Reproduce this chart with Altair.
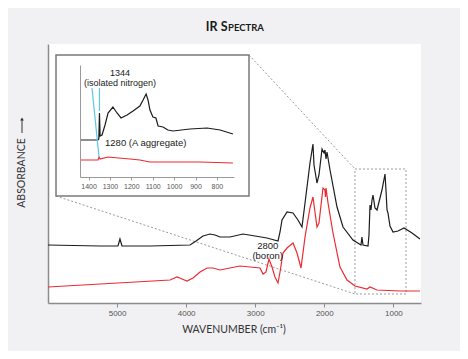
import altair as alt
import pandas as pd

# ---------------- data (wavenumber cm-1, absorbance arb. units) ----------------
black_wn = [6000, 5247, 4987, 4958, 4929, 4523, 3944, 3857, 3756, 3655, 3582, 3510, 3365, 3177,
            3003, 2830, 2670, 2641, 2612, 2540, 2453, 2381, 2323, 2279, 2207, 2164, 2149, 2106,
            2077, 2033, 2004, 1990, 1975, 1961, 1917, 1816, 1729, 1585, 1469, 1455, 1440, 1367,
            1353, 1338, 1324, 1309, 1295, 1266, 1237, 1165, 1121, 1107, 1092, 1078, 1049, 1005,
            933, 846, 730, 615]
black_abs = [0.58, 0.57, 0.57, 0.64, 0.57, 0.57, 0.58, 0.62, 0.67, 0.69, 0.68, 0.66, 0.66, 0.69,
             0.67, 0.65, 0.62, 0.71, 0.83, 0.91, 0.90, 0.83, 0.76, 1.00, 1.40, 1.59, 1.38, 1.20,
             1.28, 1.54, 1.50, 1.53, 1.44, 1.51, 1.33, 0.96, 0.76, 0.63, 0.58, 0.66, 0.58, 0.57,
             0.68, 0.98, 0.93, 1.03, 1.08, 0.95, 0.93, 1.13, 1.29, 1.13, 0.93, 0.90, 0.77, 0.71,
             0.72, 0.75, 0.70, 0.64]

red_wn = [6000, 4234, 4132, 4060, 3988, 3901, 3799, 3698, 3611, 3510, 3365, 3220, 3076, 2931,
          2887, 2844, 2801, 2757, 2714, 2670, 2641, 2598, 2540, 2453, 2395, 2337, 2279, 2207,
          2164, 2106, 2077, 2019, 1990, 1983, 1975, 1946, 1874, 1773, 1671, 1556, 1382, 1338,
          1237, 904, 615]
red_abs = [0.16, 0.23, 0.26, 0.24, 0.22, 0.25, 0.31, 0.35, 0.35, 0.33, 0.35, 0.37, 0.36, 0.35,
           0.29, 0.31, 0.44, 0.36, 0.26, 0.20, 0.31, 0.50, 0.55, 0.60, 0.50, 0.35, 0.66, 0.95,
           1.06, 0.76, 0.80, 1.15, 1.13, 1.06, 1.15, 1.00, 0.70, 0.36, 0.23, 0.17, 0.14, 0.16,
           0.13, 0.12, 0.12]

inset_black_wn = [1440, 1356, 1352, 1349, 1346, 1337, 1323, 1309, 1286, 1267, 1248, 1220, 1192,
                  1160, 1145, 1131, 1122, 1113, 1099, 1085, 1075, 1052, 1029, 1005, 926, 846,
                  785, 725]
inset_black_abs = [0.37, 0.37, 0.38, 0.64, 0.41, 0.42, 0.52, 0.64, 0.70, 0.64, 0.59, 0.62, 0.66,
                   0.71, 0.77, 0.83, 0.77, 0.67, 0.60, 0.59, 0.51, 0.50, 0.47, 0.46, 0.48, 0.49,
                   0.47, 0.43]

inset_red_wn = [1440, 1356, 1351, 1346, 1309, 1260, 1206, 1160, 1113, 1019, 879, 725]
inset_red_abs = [0.17, 0.17, 0.20, 0.18, 0.20, 0.19, 0.18, 0.17, 0.15, 0.15, 0.15, 0.14]

main_ticks = [5000, 4000, 3000, 2000, 1000]
inset_ticks = [1400, 1300, 1200, 1100, 1000, 900, 800]

# zoom window drawn on the main spectrum
zoom_box = {"x1": [1556], "x2": [817], "y1": [1.34], "y2": [0.09]}

# annotations
main_notes = {"wn": [2819, 2819], "a": [0.575, 0.47], "label": ["2800", "(boron)"]}
inset_notes = {"wn": [1253, 1253], "a": [1.045, 0.945], "label": ["1344", "(isolated nitrogen)"]}
inset_notes2 = {"wn": [1323], "a": [0.34], "label": ["1280 (A aggregate)"]}
cyan_marks = {"x1": [1384, 1349], "x2": [1351, 1349], "y1": [0.89, 0.89], "y2": [0.20, 0.66]}

W, H = 373, 259
GRAY = "#8c8c8c"

# ---------------- main scales ----------------
mx_scale = alt.Scale(domain=[6000, 600], nice=False, zero=False)
my_scale = alt.Scale(domain=[0, 2.59], nice=False, zero=False)
mx_axis = alt.Axis(values=main_ticks, format="d", orient="bottom", title=None, grid=False,
                   domainColor=GRAY, domainWidth=1.5, tickColor=GRAY, tickSize=4,
                   labelFontSize=8, labelColor="#555555", labelPadding=2,
                   labelFont="Liberation Sans")
my_axis = alt.Axis(orient="left", title=None, labels=False, ticks=False, grid=False,
                   domainColor=GRAY, domainWidth=1.5)


def mx(field):
    return alt.X(f"{field}:Q", scale=mx_scale, axis=mx_axis)


def my(field):
    return alt.Y(f"{field}:Q", scale=my_scale, axis=my_axis)


one = pd.DataFrame({"k": [0]})

black_df = pd.DataFrame({"wn": black_wn, "a": black_abs, "i": range(len(black_wn))})
red_df = pd.DataFrame({"wn": red_wn, "a": red_abs, "i": range(len(red_wn))})

frame = alt.Chart(one).mark_rect(fill="white", stroke="#7a7a7a", strokeWidth=1.5).encode(
    x=alt.value(8), x2=alt.value(201), y=alt.value(11), y2=alt.value(152))

conn1 = alt.Chart(one).mark_rule(color="#9a9a9a", strokeDash=[2, 2], strokeWidth=1).encode(
    x=alt.value(201), x2=alt.value(307), y=alt.value(11), y2=alt.value(125))
conn2 = alt.Chart(one).mark_rule(color="#9a9a9a", strokeDash=[2, 2], strokeWidth=1).encode(
    x=alt.value(8), x2=alt.value(307), y=alt.value(152), y2=alt.value(250))

box = alt.Chart(pd.DataFrame(zoom_box)).mark_rect(
    fillOpacity=0, stroke="#9a9a9a", strokeDash=[2, 2], strokeWidth=1).encode(
    x=mx("x1"), x2="x2:Q", y=my("y1"), y2="y2:Q")

red_line = alt.Chart(red_df).mark_line(color="#ec2a32", strokeWidth=1.2).encode(
    x=mx("wn"), y=my("a"), order="i:Q")
black_line = alt.Chart(black_df).mark_line(color="#1c1c1c", strokeWidth=1.2).encode(
    x=mx("wn"), y=my("a"), order="i:Q")

boron = alt.Chart(pd.DataFrame(main_notes)).mark_text(
    font="Liberation Sans", fontSize=9.5, color="#1a1a1a", align="center", baseline="middle").encode(
    x=mx("wn"), y=my("a"), text="label:N")

title1 = alt.Chart(one).mark_text(text="IR S", font="Lato", fontWeight="bold", fontSize=12.5,
                                  color="#1a1a1a", align="right", baseline="alphabetic").encode(
    x=alt.value(179.5), y=alt.value(-13))
title2 = alt.Chart(one).mark_text(text="PECTRA", font="Lato", fontWeight="bold", fontSize=9.5,
                                  color="#1a1a1a", align="left", baseline="alphabetic").encode(
    x=alt.value(180), y=alt.value(-13))

ytitle = alt.Chart(one).mark_text(text="ABSORBANCE", font="Lato", fontSize=10.5, angle=270,
                                  color="#333333", align="center", baseline="middle").encode(
    x=alt.value(-26), y=alt.value(129))
yarrow_line = alt.Chart(one).mark_rule(color="#333333", strokeWidth=1).encode(
    x=alt.value(-26), y=alt.value(75), y2=alt.value(89))
yarrow_head = alt.Chart(one).mark_point(shape="triangle-up", filled=True, size=14,
                                        color="#333333", opacity=1).encode(
    x=alt.value(-26), y=alt.value(75))
xtitle = alt.Chart(one).mark_text(text="WAVENUMBER (cm⁻¹)", font="Lato", fontSize=10.5,
                                  color="#333333", align="center", baseline="middle").encode(
    x=alt.value(186), y=alt.value(286))

main = alt.layer(conn1, conn2, box, red_line, black_line, boron, frame,
                 title1, title2, ytitle, yarrow_line, yarrow_head, xtitle)

# ---------------- inset scales ----------------
ix_scale = alt.Scale(domain=[1440, 720], range=[32, 186], nice=False, zero=False)
iy_scale = alt.Scale(domain=[0, 1.12], range=[133, 21], nice=False, zero=False)
ix_axis = alt.Axis(values=inset_ticks, format="d", orient="bottom", offset=-126, title=None,
                   grid=False, zindex=2,
                   domainColor="#999999", domainWidth=1, tickColor="#999999", tickSize=3,
                   labelFontSize=7, labelColor="#555555", labelPadding=2,
                   labelFont="Liberation Sans")
iy_axis = alt.Axis(orient="left", offset=-32, title=None, labels=False, ticks=False, grid=False,
                   zindex=2, domainColor="#999999", domainWidth=1)


def ix(field):
    return alt.X(f"{field}:Q", scale=ix_scale, axis=ix_axis)


def iy(field):
    return alt.Y(f"{field}:Q", scale=iy_scale, axis=iy_axis)


ib_df = pd.DataFrame({"wn": inset_black_wn, "a": inset_black_abs, "i": range(len(inset_black_wn))})
ir_df = pd.DataFrame({"wn": inset_red_wn, "a": inset_red_abs, "i": range(len(inset_red_wn))})

i_red = alt.Chart(ir_df).mark_line(color="#ec2a32", strokeWidth=1.1).encode(
    x=ix("wn"), y=iy("a"), order="i:Q")
i_black = alt.Chart(ib_df).mark_line(color="#1c1c1c", strokeWidth=1.2).encode(
    x=ix("wn"), y=iy("a"), order="i:Q")
i_cyan = alt.Chart(pd.DataFrame(cyan_marks)).mark_rule(color="#5cc6ea", strokeWidth=1.2).encode(
    x=ix("x1"), x2="x2:Q", y=iy("y1"), y2="y2:Q")
i_notes = alt.Chart(pd.DataFrame(inset_notes)).mark_text(
    font="Liberation Sans", fontSize=9, color="#1a1a1a", align="center", baseline="middle").encode(
    x=ix("wn"), y=iy("a"), text="label:N")
i_notes2 = alt.Chart(pd.DataFrame(inset_notes2)).mark_text(
    font="Liberation Sans", fontSize=9.5, color="#1a1a1a", align="left", baseline="middle").encode(
    x=ix("wn"), y=iy("a"), text="label:N")

inset = alt.layer(i_red, i_black, i_cyan, i_notes, i_notes2)

chart = alt.layer(main, inset).resolve_scale(
    x="independent", y="independent"
).properties(
    width=W, height=H,
    padding={"left": 40, "top": 36, "right": 39, "bottom": 48},
    autosize=alt.AutoSizeParams(type="none"),
    background="#f1f1f3",
).configure_view(strokeWidth=0, fill="white")

chart.save("out.html", embed_options={"renderer": "svg", "actions": False})
